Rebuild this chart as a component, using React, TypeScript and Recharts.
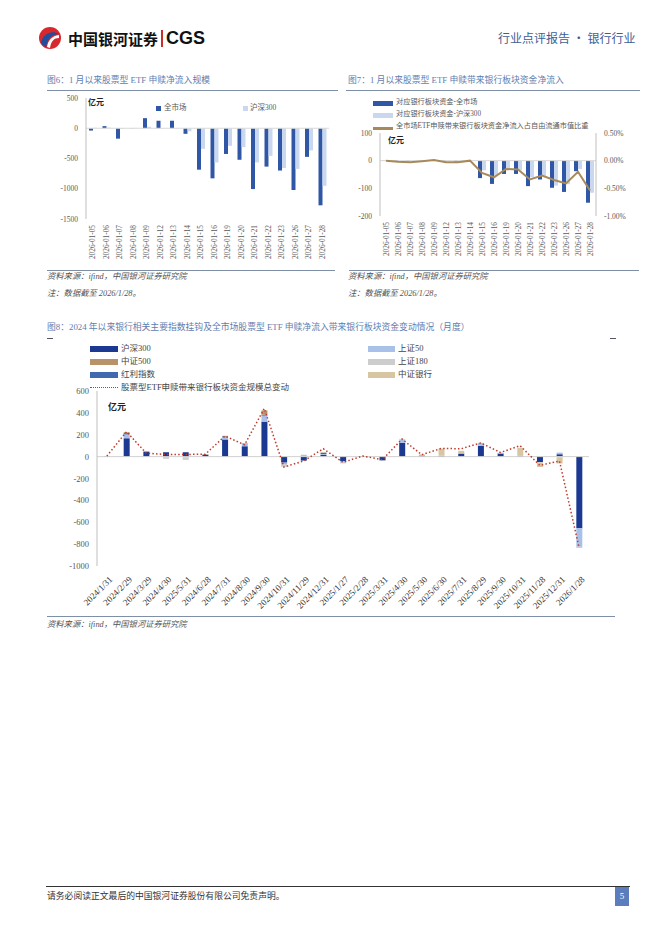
import React from "react";
import {
  ComposedChart,
  Bar,
  Line,
  XAxis,
  YAxis,
  ReferenceLine,
} from "recharts";

const SERIF = "'Liberation Serif', 'Noto Sans CJK SC', serif";
const CJK = "'Noto Sans CJK SC', sans-serif";

// 图6 / 图7 日期
const dailyDates = [
  "2026-01-05", "2026-01-06", "2026-01-07", "2026-01-08", "2026-01-09",
  "2026-01-12", "2026-01-13", "2026-01-14", "2026-01-15", "2026-01-16",
  "2026-01-19", "2026-01-20", "2026-01-21", "2026-01-22", "2026-01-23",
  "2026-01-26", "2026-01-27", "2026-01-28",
];
// 图6：股票型ETF申赎净流入（亿元）
const allMarketFlow = [-38, 35, -172, 3, 167, 124, 124, -92, -685, -828, -425, -521, -1005, -634, -699, -1021, -473, -1274];
const hs300Flow = [8, 12, -12, 6, 25, -6, -6, -50, -340, -565, -290, -312, -565, -457, -656, -672, -366, -951];

// 图7：带来银行板块资金净流入（亿元）与占比（%）
const bankAllMarket = [-1, -2, -2, 0, 1, -2, -3, -1, -63, -84, -48, -48, -92, -68, -98, -113, -38, -152];
const bankHs300 = [0, -1, -1, 0, 1, -1, -1, -1, -35, -55, -30, -35, -60, -55, -90, -85, -30, -116];
const bankRatio = [0, -0.02, -0.03, -0.01, 0.01, -0.03, -0.03, 0, -0.22, -0.3, -0.15, -0.16, -0.34, -0.27, -0.35, -0.41, -0.2, -0.54];

// 图8：月度
const monthLabels = [
  "2024/1/31", "2024/2/29", "2024/3/29", "2024/4/30", "2025/5/31", "2024/6/28",
  "2024/7/31", "2024/8/30", "2024/9/30", "2024/10/31", "2024/11/29", "2024/12/31",
  "2025/1/27", "2025/2/28", "2025/3/31", "2025/4/30", "2025/5/30", "2025/6/30",
  "2025/7/31", "2025/8/29", "2025/9/30", "2025/10/31", "2025/11/28", "2025/12/31",
  "2026/1/28",
];
const hs300Bank = [3, 168, 43, 40, 40, 18, 157, 95, 320, -55, -30, 15, -42, 2, -35, 125, 8, 6, 28, 100, 28, 5, -50, 22, -655];
const zz500Bank = [0, 8, 2, 0, 0, 2, 5, 3, 40, 0, 0, 3, 0, 0, 0, 0, 3, 0, 0, 5, 0, 0, 0, 0, 0];
const dividendBank = [1, 12, 3, 0, 0, 0, 8, 5, 8, -5, -8, 12, 0, 0, 0, 0, 0, 0, 0, 0, 0, 0, 0, 0, 0];
const sz50Bank = [1, 35, 4, -5, -8, 3, 20, 18, 55, -10, 18, 8, -5, 4, 3, 32, 3, 0, 0, 20, 8, 0, 0, 15, -170];
const sz180Bank = [0, 0, 0, -15, -22, 0, 0, 0, 0, -22, 0, 0, -15, -3, -4, 5, 0, 8, 3, 0, 0, 10, -5, -8, -10];
const csiBankBank = [0, 0, 0, 0, 0, 0, 0, 0, 0, 0, 0, 0, 0, 0, 0, 0, 6, 60, 22, 0, 0, 65, -40, -55, 0];
const etfTotalBank = [5, 228, 32, 20, 20, 22, 188, 108, 440, -95, -40, 72, -52, 5, -28, 160, 18, 75, 72, 125, 38, 100, -80, -40, -835];

const flowData = dailyDates.map((d, i) => ({ date: d, all: allMarketFlow[i], hs300: hs300Flow[i] }));
const bankDaily = dailyDates.map((d, i) => ({ date: d, all: bankAllMarket[i], hs300: bankHs300[i], ratio: bankRatio[i] }));
const monthData = monthLabels.map((m, i) => ({
  month: m,
  hs300: hs300Bank[i],
  zz500: zz500Bank[i],
  div: dividendBank[i],
  sz50: sz50Bank[i],
  sz180: sz180Bank[i],
  csiBank: csiBankBank[i],
  total: etfTotalBank[i],
}));

const C = {
  dark: "#2F57A6",
  light: "#C9D8EF",
  tan: "#A8895A",
  navy: "#1B3991",
  zz500: "#B8936A",
  div: "#4169B0",
  sz50: "#A9C0E8",
  sz180: "#CDCDCD",
  csiBank: "#D8C5A2",
  red: "#C0392B",
  title: "#5E7DB0",
  tick: "#595959",
  axis: "#BFBFBF",
};

const T = ({ x, y, size, color = "#333", children, style }: any) => (
  <div
    style={{
      position: "absolute",
      left: x,
      top: y,
      transform: "translateY(-50%)",
      fontSize: size,
      lineHeight: 1,
      color,
      whiteSpace: "nowrap",
      fontFamily: SERIF,
      ...style,
    }}
  >
    {children}
  </div>
);

const Rule = ({ x1, x2, y, color = "#7F8FA8", h = 1 }: any) => (
  <div style={{ position: "absolute", left: x1, top: y, width: x2 - x1, height: h, background: color }} />
);

const Swatch = ({ x, y, w, h, color }: any) => (
  <div style={{ position: "absolute", left: x, top: y - h / 2, width: w, height: h, background: color }} />
);

const VertTick = (props: any) => {
  const { x, y, payload } = props;
  const ay = y - 2;
  return (
    <text
      x={x}
      y={ay}
      transform={`rotate(-90 ${x} ${ay})`}
      textAnchor="end"
      dominantBaseline="central"
      fontSize={7.3}
      fill={C.tick}
      fontFamily={SERIF}
    >
      {payload.value}
    </text>
  );
};

const DiagTick = (props: any) => {
  const { x, y, payload } = props;
  const ax = x + 4;
  const ay = y + 4;
  return (
    <text
      x={ax}
      y={ay}
      transform={`rotate(-45 ${ax} ${ay})`}
      textAnchor="end"
      dominantBaseline="central"
      fontSize={9}
      fill="#333"
      fontFamily={SERIF}
    >
      {payload.value}
    </text>
  );
};

const yTick = { fontSize: 7.5, fill: C.tick, fontFamily: SERIF };

const Logo = () => (
  <svg width={24} height={24} viewBox="0 0 24 24" style={{ position: "absolute", left: 38, top: 26 }}>
    <circle cx={12} cy={12} r={11} fill="#D9272E" />
    <path d="M3 16 C6 7, 14 4, 21 8 C15 8, 10 11, 8 21 C5 20, 3.5 18, 3 16 Z" fill="#1E4E9C" />
    <path d="M9 21 C10 14, 14 10, 21 9 C21 10, 21 11, 21 12 C16 12, 13 15, 12 22 Z" fill="#fff" />
  </svg>
);

const FlowChart = () => (
  <div style={{ position: "absolute", left: 45, top: 88 }}>
    <ComposedChart width={295} height={185} data={flowData} margin={{ top: 10, right: 11, bottom: 4, left: 0 }} barGap={0} barCategoryGap="20%">
      <XAxis dataKey="date" interval={0} tick={VertTick} tickLine={false} axisLine={false} height={50} />
      <YAxis domain={[-1500, 500]} ticks={[-1500, -1000, -500, 0, 500]} width={41} tickLine={false} axisLine={{ stroke: C.axis }} tick={yTick} />
      <ReferenceLine y={0} stroke="#D9D9D9" />
      <Bar dataKey="all" fill={C.dark} barSize={4} isAnimationActive={false} />
      <Bar dataKey="hs300" fill={C.light} barSize={4} isAnimationActive={false} />
    </ComposedChart>
  </div>
);

const BankDailyChart = () => (
  <div style={{ position: "absolute", left: 345, top: 88 }}>
    <ComposedChart width={300} height={185} data={bankDaily} margin={{ top: 45, right: 4, bottom: 4, left: 0 }} barGap={0} barCategoryGap="20%">
      <XAxis dataKey="date" interval={0} tick={VertTick} tickLine={false} axisLine={false} height={53} />
      <YAxis yAxisId="l" domain={[-200, 100]} ticks={[-200, -100, 0, 100]} width={35} tickLine={false} axisLine={{ stroke: C.axis }} tick={yTick} />
      <YAxis
        yAxisId="r"
        orientation="right"
        domain={[-1, 0.5]}
        ticks={[-1, -0.5, 0, 0.5]}
        width={45}
        tickLine={false}
        axisLine={{ stroke: C.axis }}
        tick={yTick}
        tickFormatter={(v: number) => `${v.toFixed(2)}%`}
      />
      <ReferenceLine yAxisId="l" y={0} stroke="#D9D9D9" />
      <Bar yAxisId="l" dataKey="all" fill={C.dark} barSize={4} isAnimationActive={false} />
      <Bar yAxisId="l" dataKey="hs300" fill={C.light} barSize={4} isAnimationActive={false} />
      <Line yAxisId="r" dataKey="ratio" stroke={C.tan} strokeWidth={2} dot={false} type="linear" isAnimationActive={false} />
    </ComposedChart>
  </div>
);

const MonthlyChart = () => (
  <div style={{ position: "absolute", left: 45, top: 340 }}>
    <ComposedChart width={600} height={280} data={monthData} stackOffset="sign" margin={{ top: 51, right: 56, bottom: 4, left: 0 }}>
      <XAxis dataKey="month" interval={0} tick={DiagTick} tickLine={false} axisLine={false} height={50} />
      <YAxis
        domain={[-1000, 600]}
        ticks={[-1000, -800, -600, -400, -200, 0, 200, 400, 600]}
        width={52}
        tickLine={false}
        axisLine={{ stroke: C.axis }}
        tick={{ fontSize: 8.5, fill: C.tick, fontFamily: SERIF }}
      />
      <ReferenceLine y={0} stroke="#D0D0D0" />
      <Bar dataKey="hs300" stackId="a" fill={C.navy} barSize={6} isAnimationActive={false} />
      <Bar dataKey="sz50" stackId="a" fill={C.sz50} barSize={6} isAnimationActive={false} />
      <Bar dataKey="div" stackId="a" fill={C.div} barSize={6} isAnimationActive={false} />
      <Bar dataKey="sz180" stackId="a" fill={C.sz180} barSize={6} isAnimationActive={false} />
      <Bar dataKey="zz500" stackId="a" fill={C.zz500} barSize={6} isAnimationActive={false} />
      <Bar dataKey="csiBank" stackId="a" fill={C.csiBank} barSize={6} isAnimationActive={false} />
      <Line dataKey="total" stroke={C.red} strokeWidth={1.5} strokeDasharray="1.5 2.2" dot={false} type="linear" isAnimationActive={false} />
    </ComposedChart>
  </div>
);

export default function App() {
  return (
    <div style={{ position: "absolute", left: 0, top: 0, width: 662, height: 936, background: "#fff", overflow: "hidden", fontFamily: SERIF }}>
      {/* 页眉 */}
      <Logo />
      <T x={68} y={38} size={15} color="#111" style={{ fontFamily: CJK, fontWeight: 700 }}>中国银河证券</T>
      <div style={{ position: "absolute", left: 161, top: 30, width: 1.5, height: 17, background: "#C9302C" }} />
      <T x={166} y={38} size={18} color="#111" style={{ fontFamily: "'Liberation Sans', sans-serif", fontWeight: 700 }}>CGS</T>
      <T x={498} y={38} size={12} color="#3D5E95" style={{ fontFamily: CJK }}>行业点评报告 · 银行行业</T>

      {/* 图6 */}
      <T x={47} y={80} size={8.8} color={C.title}>图6：1 月以来股票型 ETF 申赎净流入规模</T>
      <Rule x1={47} x2={338} y={90} />
      <FlowChart />
      <T x={88} y={103} size={8} color="#222" style={{ fontWeight: 700 }}>亿元</T>
      <Swatch x={156} y={108} w={5} h={5} color={C.dark} />
      <T x={164} y={108} size={7.5} color={C.tick}>全市场</T>
      <Swatch x={243} y={108} w={5} h={5} color={C.light} />
      <T x={250} y={108} size={7.5} color={C.tick}>沪深300</T>

      {/* 图7 */}
      <T x={348} y={80} size={8.8} color={C.title}>图7：1 月以来股票型 ETF 申赎带来银行板块资金净流入</T>
      <Rule x1={346} x2={640} y={90} />
      <BankDailyChart />
      <Swatch x={373} y={103} w={20} h={5} color={C.dark} />
      <T x={396} y={103} size={7.2} color={C.tick}>对应银行板块资金-全市场</T>
      <Swatch x={373} y={115} w={20} h={5} color={C.light} />
      <T x={396} y={115} size={7.2} color={C.tick}>对应银行板块资金-沪深300</T>
      <Swatch x={373} y={128} w={20} h={3} color={C.tan} />
      <T x={396} y={127} size={7.2} color={C.tick}>全市场ETF申赎带来银行板块资金净流入占自由流通市值比重</T>
      <T x={388} y={141} size={8} color="#222" style={{ fontWeight: 700 }}>亿元</T>

      {/* 图6/7 来源 */}
      <Rule x1={47} x2={335} y={270} />
      <Rule x1={349} x2={639} y={270} />
      <T x={47} y={277} size={8.3} color="#555" style={{ fontStyle: "italic" }}>资料来源：ifind，中国银河证券研究院</T>
      <T x={47} y={294} size={8.3} color="#555" style={{ fontStyle: "italic" }}>注：数据截至 2026/1/28。</T>
      <T x={348} y={277} size={8.3} color="#555" style={{ fontStyle: "italic" }}>资料来源：ifind，中国银河证券研究院</T>
      <T x={348} y={294} size={8.3} color="#555" style={{ fontStyle: "italic" }}>注：数据截至 2026/1/28。</T>

      {/* 图8 */}
      <T x={47} y={327} size={8.8} color={C.title}>图8：2024 年以来银行相关主要指数挂钩及全市场股票型 ETF 申赎净流入带来银行板块资金变动情况（月度）</T>
      <Rule x1={47} x2={53} y={338} color="#556" />
      <Rule x1={610} x2={616} y={338} color="#556" />
      <MonthlyChart />
      <Swatch x={90} y={349} w={28} h={6} color={C.navy} />
      <T x={121} y={348} size={8.5} color="#444">沪深300</T>
      <Swatch x={90} y={362} w={28} h={6} color={C.zz500} />
      <T x={121} y={361} size={8.5} color="#444">中证500</T>
      <Swatch x={90} y={375} w={28} h={6} color={C.div} />
      <T x={121} y={374} size={8.5} color="#444">红利指数</T>
      <div style={{ position: "absolute", left: 90, top: 387, width: 28, height: 0, borderTop: `1.5px dotted ${C.red}` }} />
      <T x={121} y={387} size={8.5} color="#444">股票型ETF申赎带来银行板块资金规模总变动</T>
      <Swatch x={368} y={349} w={27} h={6} color={C.sz50} />
      <T x={398} y={348} size={8.5} color="#444">上证50</T>
      <Swatch x={368} y={362} w={27} h={6} color={C.sz180} />
      <T x={398} y={361} size={8.5} color="#444">上证180</T>
      <Swatch x={368} y={375} w={27} h={6} color={C.csiBank} />
      <T x={398} y={374} size={8.5} color="#444">中证银行</T>
      <T x={108} y={407} size={9} color="#222" style={{ fontWeight: 700 }}>亿元</T>

      <Rule x1={47} x2={615} y={616} />
      <T x={47} y={625} size={8.3} color="#555" style={{ fontStyle: "italic" }}>资料来源：ifind，中国银河证券研究院</T>

      {/* 页脚 */}
      <Rule x1={46} x2={630} y={886} color="#333" />
      <T x={47} y={896} size={8.8} color="#333">请务必阅读正文最后的中国银河证券股份有限公司免责声明。</T>
      <div
        style={{
          position: "absolute",
          left: 615,
          top: 887,
          width: 14,
          height: 19,
          background: "#5B7DBD",
          color: "#fff",
          fontSize: 9,
          lineHeight: "19px",
          textAlign: "center",
          fontFamily: SERIF,
        }}
      >
        5
      </div>
    </div>
  );
}
